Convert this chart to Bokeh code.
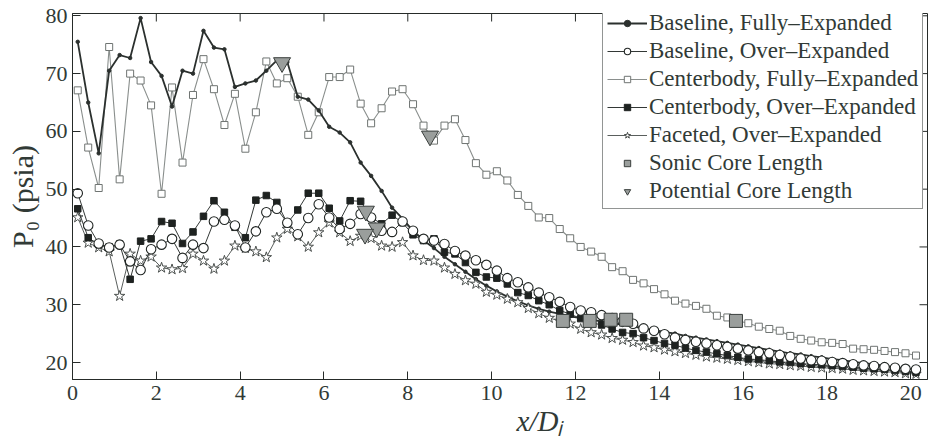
from bokeh.plotting import figure
from bokeh.models import Range1d, FixedTicker, Legend, LegendItem, Title
from bokeh.embed import file_html
from bokeh.resources import INLINE

# ---- data (x/Dj positions and P0 in psia) ----
x = [0.125, 0.375, 0.625, 0.875, 1.125, 1.375, 1.625, 1.875, 2.125, 2.375,
     2.625, 2.875, 3.125, 3.375, 3.625, 3.875, 4.125, 4.375, 4.625, 4.875,
     5.125, 5.375, 5.625, 5.875, 6.125, 6.375, 6.625, 6.875, 7.125, 7.375,
     7.625, 7.875, 8.125, 8.375, 8.625, 8.875, 9.125, 9.375, 9.625, 9.875,
     10.125, 10.375, 10.625, 10.875, 11.125, 11.375, 11.625, 11.875, 12.125, 12.375,
     12.625, 12.875, 13.125, 13.375, 13.625, 13.875, 14.125, 14.375, 14.625, 14.875,
     15.125, 15.375, 15.625, 15.875, 16.125, 16.375, 16.625, 16.875, 17.125, 17.375,
     17.625, 17.875, 18.125, 18.375, 18.625, 18.875, 19.125, 19.375, 19.625, 19.875,
     20.125]

baseline_fully = [75.5, 65.0, 56.2, 70.5, 73.2, 72.7, 79.6, 72.0, 69.6, 64.3,
                  70.5, 70.0, 77.4, 74.5, 74.2, 67.7, 68.3, 68.8, 70.5, 72.3,
                  72.0, 66.0, 65.5, 63.6, 60.8, 59.8, 58.1, 54.6, 52.3, 49.7,
                  46.8, 44.9, 42.8, 41.1, 39.8, 38.3, 37.0, 35.7, 34.4, 33.3,
                  32.3, 31.4, 30.6, 29.9, 29.3, 28.8, 28.4, 28.0, 27.7, 27.4,
                  27.1, 26.8, 26.5, 26.2, 25.9, 25.6, 25.3, 25.0, 24.6, 24.3,
                  24.0, 23.7, 23.4, 23.1, 22.8, 22.5, 22.2, 21.9, 21.6, 21.4,
                  21.1, 20.9, 20.6, 20.4, 20.1, 19.9, 19.7, 19.4, 19.2, 19.0,
                  18.8]

baseline_over = [49.3, 43.7, 40.6, 39.9, 40.4, 37.5, 36.0, 39.6, 40.4, 41.4,
                 38.1, 40.4, 39.8, 44.4, 44.7, 43.7, 39.9, 42.7, 46.0, 46.6,
                 44.2, 42.2, 45.0, 47.4, 45.1, 43.1, 44.0, 45.7, 45.1, 42.8,
                 42.6, 44.4, 42.8, 41.4, 41.1, 40.5, 39.3, 38.5, 37.7, 36.9,
                 35.9, 34.6, 33.9, 33.0, 32.1, 31.3, 30.5, 29.6, 29.0, 28.7,
                 28.2, 27.7, 27.2, 26.7, 25.9, 25.5, 24.9, 24.3, 23.9, 23.6,
                 23.3, 23.0, 22.7, 22.4, 22.1, 21.8, 21.6, 21.3, 21.0, 20.7,
                 20.4, 20.3, 20.1, 19.9, 19.7, 19.5, 19.4, 19.2, 19.1, 18.9,
                 18.8]

centerbody_fully = [67.1, 57.2, 50.2, 74.6, 51.7, 70.0, 68.8, 64.5, 49.2, 67.6,
                    54.6, 66.3, 72.5, 67.3, 61.1, 66.5, 57.0, 63.3, 72.1, 68.3,
                    69.2, 66.0, 59.4, 63.3, 69.4, 69.4, 70.7, 64.8, 61.4, 64.0,
                    66.9, 67.3, 64.7, 61.0, 58.4, 61.0, 62.1, 58.5, 54.5, 52.5,
                    53.1, 51.5, 49.0, 47.1, 45.1, 45.0, 43.1, 41.5, 40.0, 39.2,
                    38.3, 36.5, 35.8, 34.3, 33.7, 32.7, 31.8, 30.7, 30.2, 29.8,
                    29.3, 28.1, 27.8, 27.2, 26.8, 26.2, 25.8, 25.5, 24.6, 24.1,
                    23.8, 23.5, 23.4, 23.2, 22.4, 22.3, 22.2, 22.0, 21.8, 21.6,
                    21.2]

centerbody_over = [46.6, 41.6, 40.4, 40.0, 40.5, 34.4, 41.0, 41.4, 44.4, 44.1,
                   40.6, 42.6, 45.3, 48.0, 46.0, 43.4, 41.6, 48.1, 48.9, 47.7,
                   44.1, 46.4, 49.3, 49.3, 46.7, 44.5, 48.0, 47.9, 45.1, 44.0,
                   45.5, 44.2, 42.1, 41.1, 41.4, 39.1, 38.8, 37.3, 35.6, 34.8,
                   34.6, 33.6, 32.1, 31.6, 30.7, 30.0, 29.0, 28.4, 27.6, 26.9,
                   26.5, 25.8, 25.2, 25.0, 24.3, 23.8, 23.3, 23.0, 22.5, 22.1,
                   21.8, 21.5, 21.2, 20.9, 20.6, 20.5, 20.3, 20.1, 20.0, 19.8,
                   19.7, 19.6, 19.45, 19.3, 19.2, 19.0, 18.9, 18.8, 18.6, 18.45,
                   18.3]

faceted_over = [45.1, 40.7, 39.9, 39.2, 31.5, 38.8, 37.6, 38.3, 36.4, 36.1,
                36.3, 38.8, 37.6, 36.2, 37.6, 40.2, 39.8, 39.2, 38.2, 41.6,
                43.1, 41.8, 40.0, 42.5, 44.2, 42.5, 41.0, 41.9, 41.5, 40.2,
                40.0, 40.8, 38.5, 37.7, 37.6, 36.4, 35.3, 34.2, 33.6, 32.2,
                31.7, 31.0, 30.4, 29.4, 28.5, 27.7, 27.2, 26.7, 25.8, 25.2,
                24.8, 24.2, 23.9, 23.5, 22.9, 22.6, 22.2, 21.9, 21.6, 21.3,
                21.0, 20.8, 20.6, 20.4, 20.2, 20.0, 19.8, 19.7, 19.5, 19.4,
                19.2, 19.1, 19.0, 18.9, 18.7, 18.6, 18.5, 18.4, 18.3, 18.1,
                18.0]

sonic_x = [11.7, 12.34, 12.84, 13.21, 15.83]
sonic_y = [27.2, 27.2, 27.4, 27.4, 27.2]
potential_x = [5.0, 8.53, 7.0, 7.26, 6.98]
potential_y = [71.9, 59.2, 46.2, 43.3, 42.2]

x_ticks = [0, 2, 4, 6, 8, 10, 12, 14, 16, 18, 20]
y_ticks = [20, 30, 40, 50, 60, 70, 80]

FONT = "Liberation Serif"
TXT = "#313a36"
INK = "#262b29"

X0, X1 = 0, 20.4
Y0, Y1 = 17.06, 80.4

p = figure(width=928, height=436, output_backend="svg", toolbar_location=None,
           x_range=Range1d(X0, X1), y_range=Range1d(Y0, Y1),
           min_border_left=72, min_border_right=1, min_border_top=13, min_border_bottom=57)
p.background_fill_color = "white"
p.border_fill_color = "white"
p.outline_line_color = INK
p.xgrid.visible = False
p.ygrid.visible = False

p.xaxis.ticker = FixedTicker(ticks=x_ticks)
p.yaxis.ticker = FixedTicker(ticks=y_ticks)
p.xaxis.major_tick_in = 8
p.yaxis.major_tick_in = 8
p.xaxis.major_tick_out = 0
p.yaxis.major_tick_out = 0
p.xaxis.minor_tick_line_color = None
p.yaxis.minor_tick_line_color = None
p.xaxis.axis_line_color = INK
p.yaxis.axis_line_color = INK
p.xaxis.major_tick_line_color = INK
p.yaxis.major_tick_line_color = INK
p.xaxis.major_label_text_font = FONT
p.yaxis.major_label_text_font = FONT
p.xaxis.major_label_text_font_size = "22px"
p.yaxis.major_label_text_font_size = "22px"
p.xaxis.major_label_text_color = TXT
p.yaxis.major_label_text_color = TXT
p.xaxis.major_label_standoff = 6
p.yaxis.major_label_standoff = 5
p.yaxis.axis_label = "P₀ (psia)"
p.yaxis.axis_label_text_font = FONT
p.yaxis.axis_label_text_font_size = "30px"
p.yaxis.axis_label_text_font_style = "normal"
p.yaxis.axis_label_text_color = TXT
p.yaxis.axis_label_standoff = 4

# x-axis title, placed like the reference (right of centre)
xt = Title(text="x/Dⱼ", align="left", offset=444, text_font=FONT, text_font_size="29px",
           text_font_style="italic", text_color=TXT, standoff=0, text_line_height=0.9)
p.add_layout(xt, "below")

# mirrored inward ticks on the top and right edges
tick_dy = (Y1 - Y0) * 8 / 366
tick_dx = (X1 - X0) * 8 / 855
p.segment(x0=x_ticks, y0=[Y1] * len(x_ticks), x1=x_ticks, y1=[Y1 - tick_dy] * len(x_ticks),
          line_color=INK, line_width=1)
p.segment(x0=[X1] * len(y_ticks), y0=y_ticks, x1=[X1 - tick_dx] * len(y_ticks), y1=y_ticks,
          line_color=INK, line_width=1)

# series
l_cf = p.line(x, centerbody_fully, line_color="#8a8f8d", line_width=1.1)
m_cf = p.scatter(x, centerbody_fully, marker="square", size=7, fill_color="white",
                 line_color="#6f7472", line_width=1)

l_bf = p.line(x, baseline_fully, line_color="#2b302e", line_width=1.8)
m_bf = p.scatter(x, baseline_fully, marker="circle", size=3.5, fill_color="#2b302e", line_color="#2b302e")

l_fo = p.line(x, faceted_over, line_color="#5a5f5d", line_width=1)
m_fo = p.scatter(x, faceted_over, marker="star", size=11, fill_color="white",
                 line_color="#4a4f4d", line_width=1)

l_co = p.line(x, centerbody_over, line_color="#333836", line_width=1)
m_co = p.scatter(x, centerbody_over, marker="square", size=6.5, fill_color="#1e2220",
                 line_color="#1e2220", line_width=1)

l_bo = p.line(x, baseline_over, line_color="#333836", line_width=1)
m_bo = p.scatter(x, baseline_over, marker="circle", size=9.5, fill_color="white",
                 line_color="#222725", line_width=1.1)

m_sonic = p.scatter(sonic_x, sonic_y, marker="square", size=13, fill_color="#9a9e9c",
                    line_color="#3a3f3d", line_width=1)
m_pot = p.scatter(potential_x, potential_y, marker="inverted_triangle", size=17, fill_color="#9a9e9c",
                  line_color="#3a3f3d", line_width=1)

legend = Legend(items=[
    LegendItem(label="Baseline, Fully–Expanded", renderers=[l_bf, m_bf]),
    LegendItem(label="Baseline, Over–Expanded", renderers=[l_bo, m_bo]),
    LegendItem(label="Centerbody, Fully–Expanded", renderers=[l_cf, m_cf]),
    LegendItem(label="Centerbody, Over–Expanded", renderers=[l_co, m_co]),
    LegendItem(label="Faceted, Over–Expanded", renderers=[l_fo, m_fo]),
    LegendItem(label="Sonic Core Length", renderers=[m_sonic]),
    LegendItem(label="Potential Core Length", renderers=[m_pot]),
], location=(530, 170))
legend.margin = 0
legend.padding = 4
legend.spacing = 2
legend.glyph_width = 40
legend.glyph_height = 16
legend.label_height = 25
legend.label_standoff = 2
legend.label_text_font = FONT
legend.label_text_font_size = "23px"
legend.label_text_color = TXT
legend.border_line_color = INK
legend.border_line_width = 1
legend.background_fill_color = "white"
legend.background_fill_alpha = 1.0
p.add_layout(legend)

open("out.html", "w").write(file_html(p, INLINE))
